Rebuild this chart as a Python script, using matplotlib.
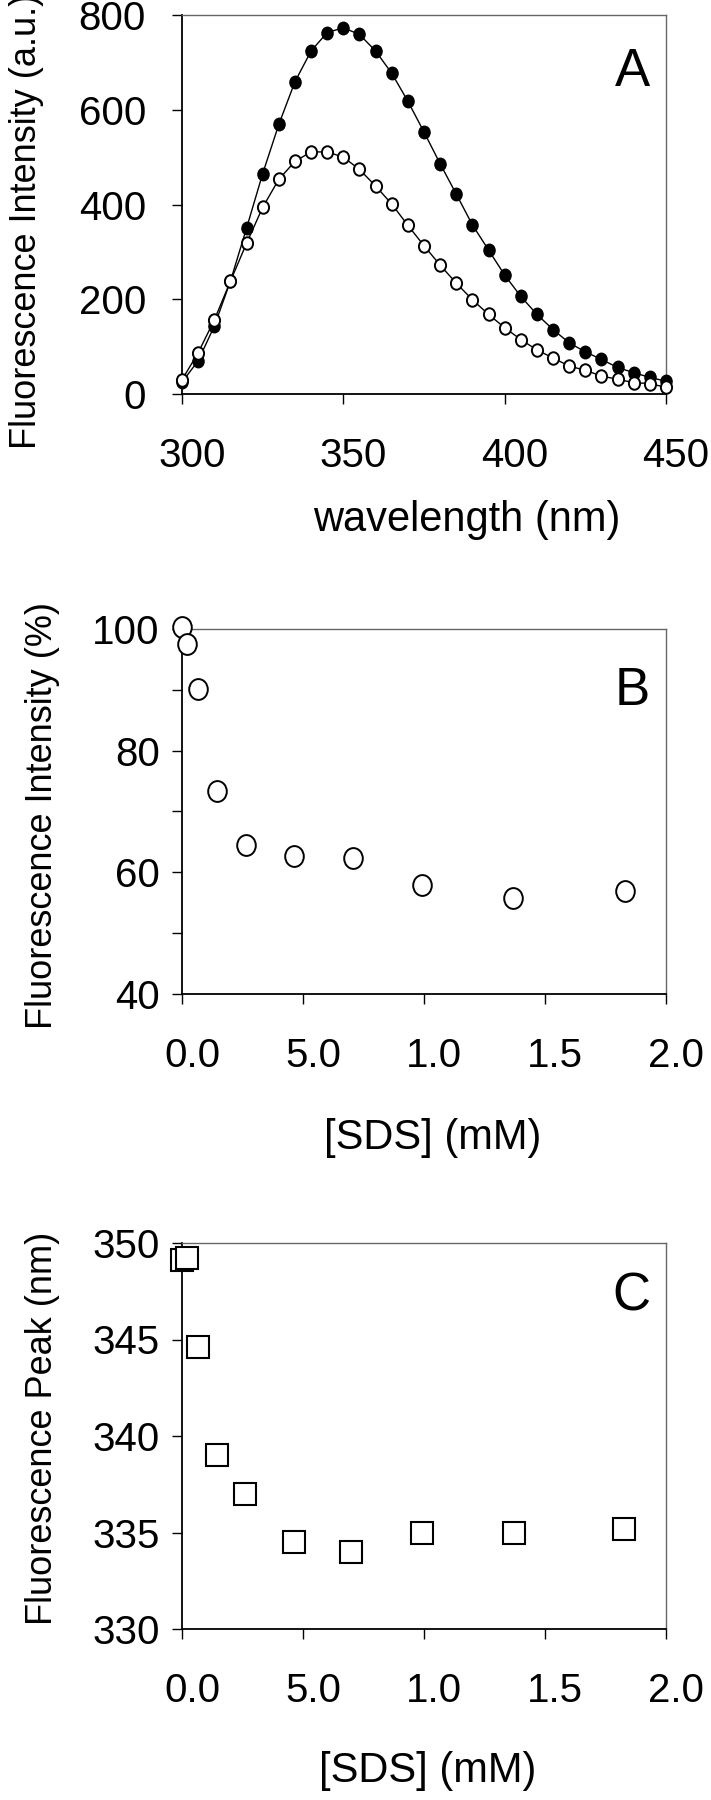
import matplotlib
matplotlib.use('Agg')
import matplotlib.pyplot as plt
from matplotlib.path import Path
from matplotlib.transforms import ScaledTranslation

plt.rc('font', family=['Liberation Sans', 'DejaVu Sans'])

# A: emission spectra, every 5 nm
wavelength = [300, 305, 310, 315, 320, 325, 330, 335, 340, 345, 350, 355, 360,
              365, 370, 375, 380, 385, 390, 395, 400, 405, 410, 415, 420, 425,
              430, 435, 440, 445, 450]
filled = [25, 70, 143, 238, 350, 465, 569, 659, 724, 763, 773, 759, 724, 677,
          618, 553, 486, 422, 357, 304, 251, 206, 168, 136, 108, 89, 73, 56,
          45, 35, 27]
hollow = [30, 87, 156, 238, 318, 394, 453, 491, 511, 511, 500, 474, 439, 401,
          356, 313, 272, 234, 199, 168, 140, 115, 93, 76, 59, 50, 38, 31, 24,
          22, 14]

# B: relative intensity vs SDS
sds_b = [0.0, 0.019, 0.067, 0.146, 0.264, 0.464, 0.708, 0.993, 1.367, 1.831]
intensity_b = [100.4, 97.5, 90.1, 73.4, 64.5, 62.7, 62.3, 57.9, 55.8, 56.9]

# C: peak position vs SDS
sds_c = [0.0, 0.022, 0.066, 0.144, 0.262, 0.461, 0.699, 0.991, 1.37, 1.825]
peak_c = [349.1, 349.2, 344.6, 339.0, 337.0, 334.5, 334.0, 335.0, 335.0, 335.2]

sds_ticks = [0.0, 0.5, 1.0, 1.5, 2.0]
sds_labels = ['0.0', '5.0', '1.0', '1.5', '2.0']

W, H = 711, 1800
fig = plt.figure(figsize=(W / 100, H / 100), dpi=100)


def box(top, bottom, left=182, right=666):
    return [left / W, 1 - bottom / H, (right - left) / W, (bottom - top) / H]


def frame(ax, ypad):
    for s in ('left', 'bottom'):
        ax.spines[s].set_linewidth(1.3)
        ax.spines[s].set_color('black')
    for s in ('top', 'right'):
        ax.spines[s].set_linewidth(1.0)
        ax.spines[s].set_color('0.4')
        ax.spines[s].set_linestyle((0, (1.5, 1)))
    ax.tick_params(direction='out', length=7, width=1, labelsize=29)
    ax.tick_params(axis='x', pad=24)
    ax.tick_params(axis='y', pad=ypad)
    # x tick labels sit a little right of their ticks in the original
    shift = ScaledTranslation(0.1, 0, fig.dpi_scale_trans)
    for lab in ax.get_xticklabels():
        lab.set_transform(lab.get_transform() + shift)


# slightly tall circle, like the scanned figure
circ = Path.unit_circle()
ell = Path(circ.vertices * [1.0, 1.12], circ.codes)

# ---- A ----
axA = fig.add_axes(box(15, 394))
axA.plot(wavelength, filled, '-', color='black', lw=1.0, marker=ell, ms=9,
         mfc='black', mec='black', clip_on=False, zorder=3)
axA.plot(wavelength, hollow, '-', color='black', lw=1.0, marker=ell, ms=9,
         mfc='white', mec='black', mew=1.4, clip_on=False, zorder=4)
axA.set_xlim(300, 450)
axA.set_ylim(0, 800)
axA.set_xticks([300, 350, 400, 450])
axA.set_yticks([0, 200, 400, 600, 800])
frame(axA, 19)
axA.set_xlabel('wavelength (nm)', fontsize=30)
axA.xaxis.label.set_va('center')
axA.xaxis.set_label_coords(0.589, -0.332)
axA.set_ylabel('Fluorescence Intensity (a.u.)', fontsize=26)
axA.yaxis.label.set_va('center')
axA.yaxis.set_label_coords(-0.322, 0.456)
axA.text(0.967, 0.813, 'A', transform=axA.transAxes, ha='right',
         va='baseline', fontsize=38)

# ---- B ----
axB = fig.add_axes(box(629, 994))
axB.plot(sds_b, intensity_b, ls='none', marker=ell, ms=15, mfc='white',
         mec='black', mew=1.4, clip_on=False, zorder=3)
axB.set_xlim(0, 2.0)
axB.set_ylim(40, 100)
axB.set_xticks(sds_ticks)
axB.set_xticklabels(sds_labels)
axB.set_yticks([40, 50, 60, 70, 80, 90, 100])
axB.set_yticklabels(['40', '', '60', '', '80', '', '100'])
frame(axB, 9)
axB.set_xlabel('[SDS] (mM)', fontsize=30)
axB.xaxis.label.set_va('center')
axB.xaxis.set_label_coords(0.517, -0.395)
axB.set_ylabel('Fluorescence Intensity (%)', fontsize=26)
axB.yaxis.label.set_va('center')
axB.yaxis.set_label_coords(-0.289, 0.49)
axB.text(0.967, 0.792, 'B', transform=axB.transAxes, ha='right',
         va='baseline', fontsize=38)

# ---- C ----
axC = fig.add_axes(box(1243, 1629))
axC.plot(sds_c, peak_c, ls='none', marker='s', ms=16, mfc='white',
         mec='black', mew=1.5, clip_on=False, zorder=3)
axC.set_xlim(0, 2.0)
axC.set_ylim(330, 350)
axC.set_xticks(sds_ticks)
axC.set_xticklabels(sds_labels)
axC.set_yticks([330, 335, 340, 345, 350])
frame(axC, 9)
axC.set_xlabel('[SDS] (mM)', fontsize=30)
axC.xaxis.label.set_va('center')
axC.xaxis.set_label_coords(0.508, -0.368)
axC.set_ylabel('Fluorescence Peak (nm)', fontsize=26)
axC.yaxis.label.set_va('center')
axC.yaxis.set_label_coords(-0.289, 0.52)
axC.text(0.967, 0.824, 'C', transform=axC.transAxes, ha='right',
         va='baseline', fontsize=38)

fig.savefig('out.png', dpi=100)
